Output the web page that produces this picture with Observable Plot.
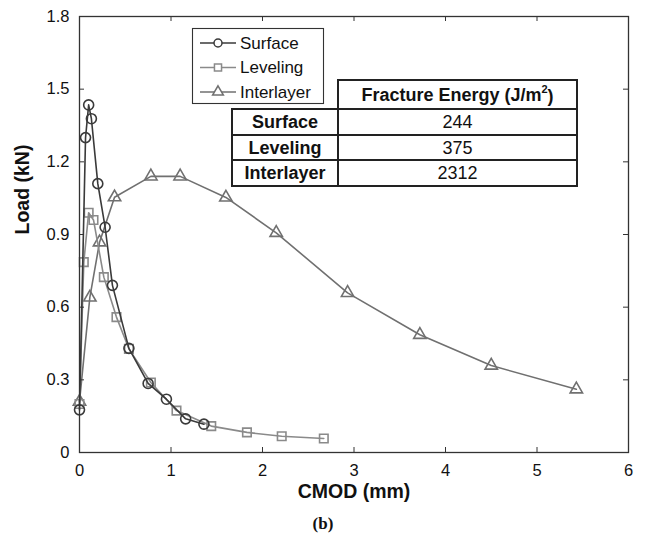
<!DOCTYPE html>
<html>
<head>
<meta charset="utf-8">
<script src="https://cdn.jsdelivr.net/npm/d3@7"></script>
<script src="https://cdn.jsdelivr.net/npm/@observablehq/plot@0.6"></script>
<style>
  html, body { margin: 0; padding: 0; background: #fff; }
  #chart { width: 645px; height: 545px; }
</style>
</head>
<body>
<div id="chart"></div>
<script>
// ---- data ----
const surfaceX = [0.0, 0.066, 0.10, 0.13, 0.20, 0.28, 0.36, 0.54, 0.75, 0.95, 1.16, 1.36];
const surfaceY = [0.176, 1.30, 1.435, 1.378, 1.11, 0.93, 0.69, 0.43, 0.285, 0.22, 0.139, 0.117];

const levelingX = [0.0, 0.047, 0.10, 0.153, 0.266, 0.404, 0.54, 0.78, 1.06, 1.44, 1.83, 2.21, 2.67];
const levelingY = [0.20, 0.786, 0.99, 0.96, 0.724, 0.559, 0.428, 0.289, 0.173, 0.109, 0.083, 0.067, 0.058];

const interlayerX = [0.0, 0.113, 0.219, 0.383, 0.78, 1.10, 1.60, 2.15, 2.93, 3.72, 4.50, 5.43];
const interlayerY = [0.21, 0.64, 0.868, 1.054, 1.14, 1.14, 1.053, 0.907, 0.659, 0.486, 0.359, 0.261];

const seriesNames = ["Surface", "Leveling", "Interlayer"];
const fractureEnergy = [244, 375, 2312];
const tableHeader = "Fracture Energy (J/m";

const xTicks = [0, 1, 2, 3, 4, 5, 6];
const yTicks = [0, 0.3, 0.6, 0.9, 1.2, 1.5, 1.8];
const xLabel = "CMOD (mm)";
const yLabel = "Load (kN)";
const caption = "(b)";

// ---- styles ----
const colors = {Surface: "#3a3a3a", Leveling: "#8a8a8a", Interlayer: "#707070"};
const symbols = {Surface: "circle", Leveling: "square", Interlayer: "triangle"};
const radii = {Surface: 5, Leveling: 4.8, Interlayer: 4.6};

function rows(name, xs, ys) { return xs.map((x, i) => ({series: name, x, y: ys[i]})); }
const data = {
  Surface: rows("Surface", surfaceX, surfaceY),
  Leveling: rows("Leveling", levelingX, levelingY),
  Interlayer: rows("Interlayer", interlayerX, interlayerY)
};

const drawOrder = ["Interlayer", "Leveling", "Surface"];
const seriesMarks = drawOrder.flatMap(name => [
  Plot.line(data[name], {x: "x", y: "y", stroke: colors[name], strokeWidth: 1.6}),
  Plot.dot(data[name], {x: "x", y: "y", symbol: symbols[name], r: radii[name], stroke: colors[name], fill: "none", strokeWidth: 1.6})
]);

const fmtY = d => d === 0 ? "0" : d.toFixed(1);
const font = "'Liberation Sans', Arial, Helvetica, sans-serif";

const W = 645, H = 545, mL = 79, mR = 17, mT = 16, mB = 93;
const frameW = W - mL - mR, frameH = H - mT - mB, tickLen = 5;

const chart = Plot.plot({
  width: W,
  height: H,
  marginLeft: mL,
  marginRight: mR,
  marginTop: mT,
  marginBottom: mB,
  style: {fontFamily: font, background: "#fff", color: "#111", overflow: "visible"},
  x: {domain: [0, 6]},
  y: {domain: [0, 1.8]},
  marks: [
    ...seriesMarks,
    // inward ticks on all four sides
    Plot.tickX(xTicks, {x: d => d, insetTop: frameH - tickLen, stroke: "#333"}),
    Plot.tickX(xTicks, {x: d => d, insetBottom: frameH - tickLen, stroke: "#333"}),
    Plot.tickY(yTicks, {y: d => d, insetRight: frameW - tickLen, stroke: "#333"}),
    Plot.tickY(yTicks, {y: d => d, insetLeft: frameW - tickLen, stroke: "#333"}),
    Plot.frame({stroke: "#333", strokeWidth: 1.3}),
    // tick labels
    Plot.axisX(xTicks, {anchor: "bottom", tickSize: 0, tickPadding: 12, fontSize: 16.5, label: null, fill: "#111"}),
    Plot.axisY(yTicks, {anchor: "left", tickSize: 0, tickPadding: 10, fontSize: 16.5, label: null, tickFormat: fmtY, fill: "#111"}),
    // axis titles and caption
    Plot.text([xLabel], {frameAnchor: "bottom", dy: 45, fontSize: 19.5, fontWeight: "bold", fill: "#111"}),
    Plot.text([yLabel], {frameAnchor: "left", dx: -57, rotate: -90, fontSize: 19.5, fontWeight: "bold", fill: "#111"}),
    Plot.text([caption], {frameAnchor: "bottom", dx: -31, dy: 76, fontSize: 17, fontWeight: "bold", fontFamily: "'Liberation Serif', 'Times New Roman', serif", fill: "#111"})
  ]
});
document.getElementById("chart").appendChild(chart);

// ---- legend and table (annotations) ----
const svg = d3.select(chart);

// legend
const lg = svg.append("g").attr("font-family", font).attr("text-anchor", "start");
lg.append("rect").attr("x", 192.5).attr("y", 28.5).attr("width", 131).attr("height", 75)
  .attr("fill", "#fff").attr("stroke", "#333").attr("stroke-width", 1.1);
const symbolGen = {
  circle: d3.symbol(d3.symbolCircle, Math.PI * 16),
  square: d3.symbol(d3.symbolSquare, Math.PI * 16),
  triangle: d3.symbol(d3.symbolTriangle, Math.PI * 16)
};
seriesNames.forEach((name, i) => {
  const y = 43 + i * 24.5;
  lg.append("line").attr("x1", 200).attr("x2", 236).attr("y1", y).attr("y2", y)
    .attr("stroke", colors[name]).attr("stroke-width", 1.6);
  lg.append("path").attr("d", symbolGen[symbols[name]]()).attr("transform", `translate(218,${y})`)
    .attr("fill", "#fff").attr("stroke", colors[name]).attr("stroke-width", 1.5);
  lg.append("text").attr("x", 240).attr("y", y).attr("dy", "0.35em").attr("text-anchor", "start")
    .attr("font-size", 17).attr("fill", "#111").text(name);
});

// table
const tb = svg.append("g").attr("font-family", font).attr("fill", "#111");
const cx0 = 232, cx1 = 338, cx2 = 577;
const rowY = [80, 109, 135, 160, 186];
tb.append("rect").attr("x", cx1).attr("y", rowY[0]).attr("width", cx2 - cx1).attr("height", rowY[1] - rowY[0])
  .attr("fill", "#fff").attr("stroke", "#222").attr("stroke-width", 2);
const hdr = tb.append("text").attr("x", (cx1 + cx2) / 2).attr("y", (rowY[0] + rowY[1]) / 2).attr("dy", "0.38em")
  .attr("text-anchor", "middle").attr("font-size", 18).attr("font-weight", "bold");
hdr.append("tspan").text(tableHeader);
hdr.append("tspan").attr("font-size", 11).attr("dy", "-0.75em").text("2");
hdr.append("tspan").attr("dy", "0.5em").text(")");
seriesNames.forEach((name, i) => {
  const y0 = rowY[i + 1], y1 = rowY[i + 2];
  tb.append("rect").attr("x", cx0).attr("y", y0).attr("width", cx1 - cx0).attr("height", y1 - y0)
    .attr("fill", "#fff").attr("stroke", "#222").attr("stroke-width", 2);
  tb.append("rect").attr("x", cx1).attr("y", y0).attr("width", cx2 - cx1).attr("height", y1 - y0)
    .attr("fill", "#fff").attr("stroke", "#222").attr("stroke-width", 2);
  tb.append("text").attr("x", (cx0 + cx1) / 2).attr("y", (y0 + y1) / 2).attr("dy", "0.36em")
    .attr("text-anchor", "middle").attr("font-size", 18).attr("font-weight", "bold").text(name);
  tb.append("text").attr("x", (cx1 + cx2) / 2).attr("y", (y0 + y1) / 2).attr("dy", "0.36em")
    .attr("text-anchor", "middle").attr("font-size", 18).text(fractureEnergy[i]);
});
</script>
</body>
</html>
